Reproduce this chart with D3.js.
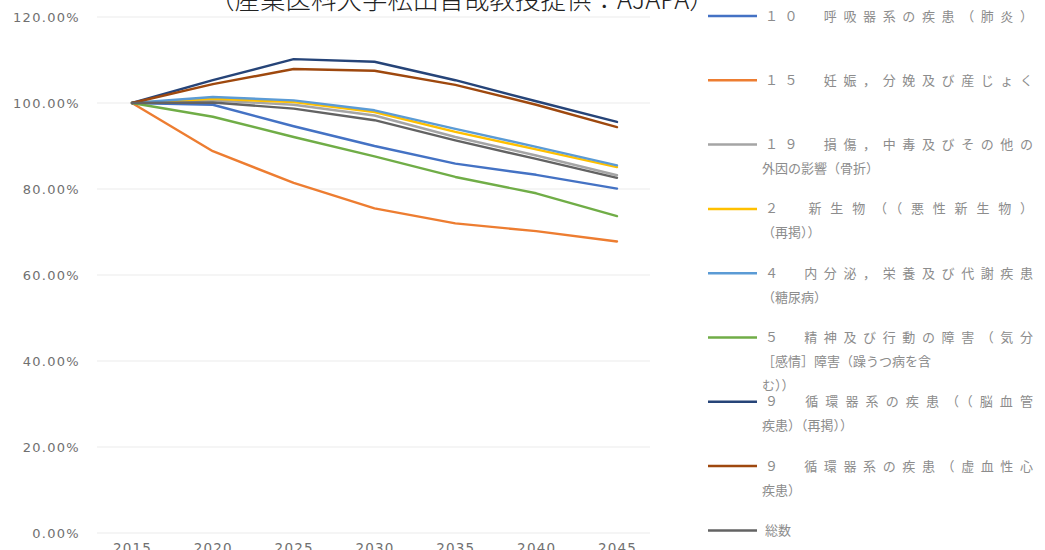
<!DOCTYPE html>
<html>
<head>
<meta charset="utf-8">
<script src="https://cdn.jsdelivr.net/npm/d3@7"></script>
<style>
  html, body { margin: 0; padding: 0; background: #ffffff; }
  svg { display: block; }
</style>
</head>
<body>
<svg id="chart" width="1045" height="550"></svg>
<script>
// Projected patient index by disease group (2015 = 100%)
const years = ["2015", "2020", "2025", "2030", "2035", "2040", "2045"];

const yTicks = [0, 0.2, 0.4, 0.6, 0.8, 1.0, 1.2];

const seriesNames = [
  ["１０　呼吸器系の疾患（肺炎）"],
  ["１５　妊娠，分娩及び産じょく"],
  ["１９　損傷，中毒及びその他の", "外因の影響（骨折）"],
  ["２　新生物（（悪性新生物）", "（再掲））"],
  ["４　内分泌，栄養及び代謝疾患", "（糖尿病）"],
  ["５　精神及び行動の障害（気分", "［感情］障害（躁うつ病を含", "む））"],
  ["９　循環器系の疾患（（脳血管", "疾患）（再掲））"],
  ["９　循環器系の疾患（虚血性心", "疾患）"],
  ["総数"]
];

const seriesColors = ["#4472C4", "#ED7D31", "#A5A5A5", "#FFC000", "#5B9BD5",
                      "#70AD47", "#264478", "#9E480E", "#636363"];

// values in percent, one per year
const respiratory = [100, 99.6, 94.6, 90.0, 85.9, 83.3, 80.1];
const pregnancy   = [100, 88.8, 81.4, 75.5, 72.0, 70.2, 67.8];
const injury      = [100, 100.6, 99.6, 97.1, 92.1, 87.8, 83.2];
const neoplasm    = [100, 101.0, 100.2, 97.9, 93.3, 89.2, 85.1];
const endocrine   = [100, 101.4, 100.6, 98.3, 94.0, 89.8, 85.5];
const mental      = [100, 96.8, 92.1, 87.6, 82.8, 79.0, 73.7];
const cerebro     = [100, 105.3, 110.2, 109.6, 105.3, 100.4, 95.6];
const ischemic    = [100, 104.4, 107.9, 107.5, 104.2, 99.6, 94.4];
const total       = [100, 100.1, 98.7, 96.0, 91.3, 87.0, 82.6];

const seriesValues = [respiratory, pregnancy, injury, neoplasm, endocrine,
                      mental, cerebro, ischemic, total];

const titleText = "（産業医科大学松田晋哉教授提供：AJAPA）";

const svg = d3.select("#chart");

svg.append("rect").attr("width", 1045).attr("height", 550).attr("fill", "#ffffff");

const plot = { left: 97, right: 650, top: 17, bottom: 533 };

const x = d3.scalePoint().domain(years).range([132, 617]);
const y = d3.scaleLinear().domain([0, 1.2]).range([plot.bottom, plot.top]);

// horizontal gridlines
svg.append("g")
  .selectAll("line")
  .data(yTicks)
  .join("line")
  .attr("x1", plot.left)
  .attr("x2", plot.right)
  .attr("y1", d => y(d))
  .attr("y2", d => y(d))
  .attr("stroke", "#ebebeb")
  .attr("stroke-width", 1);

// y axis labels
const yAxis = d3.axisLeft(y)
  .tickValues(yTicks)
  .tickFormat(d => (d * 100).toFixed(2) + "%")
  .tickSize(0)
  .tickPadding(0);

const gy = svg.append("g")
  .attr("transform", "translate(80,0)")
  .call(yAxis);
gy.select(".domain").remove();
gy.selectAll("text")
  .attr("fill", "#707070")
  .style("font-family", "'DejaVu Sans', sans-serif")
  .style("font-size", "13px")
  .style("letter-spacing", "1.3px");

// x axis labels
const xAxis = d3.axisBottom(x).tickSize(0).tickPadding(0);
const gx = svg.append("g")
  .attr("transform", "translate(0,543)")
  .call(xAxis);
gx.select(".domain").remove();
gx.selectAll("text")
  .attr("dy", "0.71em")
  .attr("fill", "#707070")
  .style("font-family", "'DejaVu Sans', sans-serif")
  .style("font-size", "13.5px")
  .style("letter-spacing", "1.2px");

// series lines
const line = d3.line()
  .x((d, i) => x(years[i]))
  .y(d => y(d / 100));

svg.append("g")
  .selectAll("path")
  .data(seriesValues)
  .join("path")
  .attr("d", d => line(d))
  .attr("fill", "none")
  .attr("stroke", (d, i) => seriesColors[i])
  .attr("stroke-width", 2.4)
  .attr("stroke-linejoin", "round")
  .attr("stroke-linecap", "round");

// legend
const legend = svg.append("g");
const legendY = i => 16 + i * 64.3;

seriesNames.forEach((lines, i) => {
  const g = legend.append("g").attr("transform", `translate(0,${legendY(i)})`);
  g.append("line")
    .attr("x1", 708).attr("x2", 757)
    .attr("y1", 0).attr("y2", 0)
    .attr("stroke", seriesColors[i])
    .attr("stroke-width", 2.5);
  lines.forEach((t, j) => {
    const txt = g.append("text")
      .attr("x", j === 0 ? 765 : 762)
      .attr("y", j * 24)
      .attr("dy", "0.35em")
      .attr("fill", "#8c8c8c")
      .style("font-family", "'Noto Sans CJK JP', sans-serif")
      .style("font-size", "13px")
      .text(t);
    if (j === 0 && t.length > 6) {
      txt.attr("textLength", 268).attr("lengthAdjust", "spacing");
    }
  });
});

// source caption across the top
svg.append("text")
  .attr("x", 209)
  .attr("y", 9)
  .attr("fill", "#222222")
  .style("font-family", "'Noto Sans CJK JP', sans-serif")
  .style("font-size", "25.5px")
  .style("font-weight", "300")
  .text(titleText);
</script>
</body>
</html>
